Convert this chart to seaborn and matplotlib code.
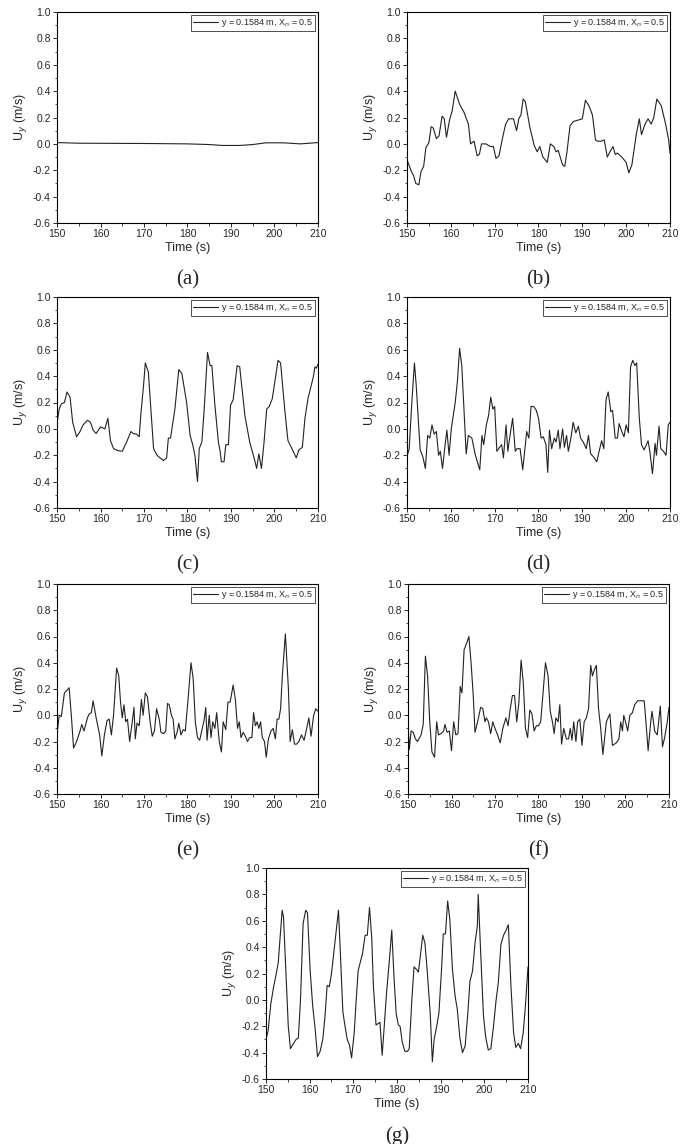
import numpy as np
import pandas as pd
import seaborn as sns
import matplotlib
matplotlib.use("Agg")
import matplotlib.pyplot as plt
from matplotlib.ticker import MultipleLocator

sns.set_style("ticks")
plt.rcParams["font.family"] = "Liberation Sans"

t_a = [150, 155, 170, 180, 185, 188, 192, 195, 198, 202, 206, 210]
u_a = [0.01, 0.005, 0.003, 0.0, -0.005, -0.012, -0.012, -0.005, 0.008, 0.008, 0.0, 0.01]

t_b = [150, 151, 151.5, 152, 152.7, 153.2, 153.8, 154.3, 155, 155.5, 156, 156.7, 157.3, 158, 158.5, 159, 159.7, 160.3, 161, 162, 163, 164, 164.5, 165.3, 166, 166.5, 167, 168, 169, 169.7, 170.3, 171, 171.7, 172.5, 173.2, 174.3, 175, 175.5, 176, 176.5, 177, 178, 179, 179.7, 180.3, 181, 182, 182.7, 183.5, 184, 184.5, 185.5, 186, 186.5, 187.2, 188, 189, 190, 190.7, 191.5, 192.3, 193, 193.5, 194.3, 195, 195.7, 196.3, 197, 197.5, 198, 199, 200, 200.6, 201.3, 202.3, 203, 203.5, 204.3, 205, 205.7, 206.3, 207, 208, 209, 209.7, 210]
u_b = [-0.12, -0.21, -0.24, -0.30, -0.31, -0.21, -0.17, -0.03, 0.01, 0.13, 0.12, 0.04, 0.06, 0.21, 0.19, 0.05, 0.18, 0.25, 0.40, 0.30, 0.24, 0.15, 0.0, 0.02, -0.09, -0.08, 0.0, 0.0, -0.02, -0.02, -0.11, -0.09, 0.03, 0.15, 0.19, 0.19, 0.10, 0.19, 0.22, 0.34, 0.32, 0.13, -0.01, -0.06, -0.02, -0.10, -0.14, 0.0, -0.02, -0.06, -0.05, -0.16, -0.17, -0.06, 0.14, 0.17, 0.18, 0.19, 0.33, 0.29, 0.22, 0.03, 0.02, 0.02, 0.03, -0.10, -0.06, -0.02, -0.08, -0.07, -0.10, -0.14, -0.22, -0.16, 0.07, 0.19, 0.07, 0.15, 0.19, 0.15, 0.20, 0.34, 0.29, 0.15, 0.03, -0.07]

t_c = [150, 150.5, 151, 151.7, 152.3, 153, 153.6, 154.5, 155.3, 156, 157, 157.7, 158.3, 159, 160, 161, 161.7, 162.3, 163, 164, 165, 166, 167, 167.5, 168.3, 168.9, 169.3, 169.9, 170.3, 171, 172.2, 173, 173.7, 174.5, 175.2, 175.6, 176.1, 177.1, 178, 178.7, 179.8, 180.6, 181.2, 181.7, 182.3, 182.7, 183.3, 183.8, 184.3, 184.6, 185.2, 185.6, 186.3, 187.1, 187.5, 187.8, 188.4, 188.8, 189.4, 189.9, 190.5, 191.4, 192, 193.2, 194.3, 195.3, 195.9, 196.4, 197, 197.6, 198.2, 198.8, 199.5, 200.5, 200.8, 201.4, 202.4, 203.1, 204.3, 205, 205.6, 206.4, 207, 207.7, 208.9, 209.3, 209.6, 210]
u_c = [0.04, 0.15, 0.19, 0.20, 0.28, 0.24, 0.05, -0.06, -0.02, 0.03, 0.065, 0.05, -0.01, -0.035, 0.015, 0.0, 0.08, -0.09, -0.15, -0.165, -0.17, -0.10, -0.02, -0.035, -0.04, -0.06, 0.12, 0.33, 0.50, 0.43, -0.15, -0.20, -0.22, -0.24, -0.22, -0.07, -0.07, 0.15, 0.45, 0.42, 0.20, -0.05, -0.12, -0.20, -0.40, -0.15, -0.10, 0.13, 0.41, 0.58, 0.48, 0.48, 0.18, -0.10, -0.17, -0.25, -0.25, -0.12, -0.12, 0.18, 0.22, 0.48, 0.47, 0.10, -0.10, -0.22, -0.30, -0.19, -0.30, -0.10, 0.15, 0.17, 0.23, 0.45, 0.52, 0.50, 0.13, -0.09, -0.17, -0.22, -0.16, -0.14, 0.08, 0.23, 0.39, 0.47, 0.46, 0.49]

t_d = [150.0, 150.5, 151.1, 151.7, 152.1, 153.0, 153.6, 154.2, 154.7, 155.2, 155.7, 156.2, 156.7, 157.2, 157.6, 158.1, 158.7, 159.1, 159.6, 160.1, 161.0, 161.5, 162.0, 162.5, 163.1, 163.5, 164.0, 164.8, 165.6, 166.6, 167.1, 167.5, 168.1, 168.6, 169.1, 169.6, 170.0, 170.5, 171.1, 171.6, 172.0, 172.6, 173.0, 173.5, 174.1, 174.7, 175.1, 175.8, 176.4, 177.0, 177.3, 177.8, 178.3, 178.9, 179.5, 180.0, 180.6, 181.1, 181.7, 182.1, 182.5, 183.0, 183.6, 184.0, 184.5, 184.9, 185.5, 185.9, 186.4, 186.8, 187.4, 187.9, 188.5, 189.1, 189.6, 190.2, 190.9, 191.4, 191.9, 192.5, 193.3, 193.9, 194.4, 194.9, 195.4, 195.9, 196.5, 196.9, 197.5, 198.0, 198.4, 199.0, 199.5, 200.0, 200.5, 201.0, 201.5, 202.0, 202.4, 203.0, 203.5, 204.1, 205.0, 205.4, 206.0, 206.6, 206.9, 207.5, 207.9, 208.5, 209.1, 209.6, 210.0]
u_d = [-0.21, -0.15, 0.2, 0.5, 0.33, -0.16, -0.21, -0.30, -0.05, -0.07, 0.03, -0.04, -0.02, -0.2, -0.17, -0.30, -0.12, -0.01, -0.2, 0.0, 0.2, 0.36, 0.61, 0.48, 0.08, -0.19, -0.05, -0.07, -0.2, -0.31, -0.05, -0.12, 0.03, 0.1, 0.24, 0.15, 0.17, -0.17, -0.14, -0.12, -0.22, 0.03, -0.17, -0.05, 0.08, -0.17, -0.15, -0.15, -0.31, -0.12, -0.02, -0.07, 0.17, 0.17, 0.14, 0.08, -0.07, -0.06, -0.12, -0.33, -0.01, -0.15, -0.07, -0.10, -0.01, -0.15, 0.0, -0.14, -0.05, -0.17, -0.07, 0.05, -0.03, 0.02, -0.07, -0.10, -0.15, -0.05, -0.19, -0.21, -0.25, -0.16, -0.09, -0.15, 0.22, 0.28, 0.13, 0.14, -0.07, -0.07, 0.04, -0.02, -0.06, 0.03, -0.03, 0.47, 0.52, 0.48, 0.5, 0.08, -0.12, -0.16, -0.09, -0.17, -0.34, -0.11, -0.2, 0.02, -0.15, -0.17, -0.2, 0.03, 0.05]

t_e = [150, 150.5, 151, 151.7, 152.3, 152.8, 153.4, 153.8, 154.5, 155.3, 155.7, 156.2, 157, 157.4, 157.9, 158.3, 159, 159.8, 160.3, 160.9, 161.5, 162, 162.5, 163, 163.7, 164.2, 164.6, 165, 165.4, 165.8, 166.2, 166.7, 167.3, 167.7, 168, 168.4, 168.9, 169.4, 169.8, 170.3, 170.8, 171.4, 171.9, 172.4, 172.9, 173.5, 173.9, 174.5, 175, 175.4, 175.8, 176.3, 176.7, 177.1, 177.6, 178, 178.5, 179, 179.5, 180.2, 180.8, 181.3, 181.8, 182.3, 182.8, 183.4, 183.8, 184.2, 184.5, 185, 185.4, 185.8, 186.3, 186.7, 187.3, 187.8, 188.2, 188.8, 189.3, 189.8, 190.5, 191, 191.5, 191.9, 192.3, 192.8, 193.3, 193.8, 194.3, 194.8, 195.2, 195.6, 196, 196.4, 196.8, 197.2, 197.7, 198.1, 198.6, 199.2, 199.7, 200.2, 200.6, 201, 201.4, 201.8, 202.5, 203.2, 203.6, 204.1, 204.6, 205.1, 205.6, 206.2, 206.8, 207.4, 207.9, 208.4, 209, 209.5, 210]
u_e = [-0.15, 0.0, -0.01, 0.17, 0.19, 0.21, -0.05, -0.25, -0.20, -0.12, -0.07, -0.12, -0.02, 0.01, 0.02, 0.11, -0.02, -0.15, -0.31, -0.15, -0.04, -0.03, -0.15, 0.0, 0.36, 0.30, 0.10, -0.02, 0.08, -0.05, -0.03, -0.20, -0.05, 0.06, -0.18, -0.06, -0.08, 0.12, 0.0, 0.17, 0.14, -0.05, -0.16, -0.12, 0.05, -0.03, -0.13, -0.14, -0.12, 0.09, 0.08, 0.0, -0.03, -0.18, -0.13, -0.06, -0.15, -0.11, -0.12, 0.15, 0.40, 0.28, -0.05, -0.17, -0.19, -0.10, -0.04, 0.06, -0.19, 0.0, -0.17, -0.05, -0.10, 0.02, -0.20, -0.28, -0.05, -0.11, 0.10, 0.10, 0.23, 0.12, -0.10, -0.05, -0.17, -0.13, -0.16, -0.20, -0.17, -0.17, 0.02, -0.08, -0.05, -0.10, -0.05, -0.17, -0.20, -0.32, -0.18, -0.12, -0.10, -0.18, -0.03, -0.03, 0.05, 0.30, 0.62, 0.20, -0.20, -0.11, -0.22, -0.22, -0.20, -0.15, -0.19, -0.10, -0.02, -0.16, 0.0, 0.05, 0.03]

t_f = [150, 150.3, 150.7, 151.2, 151.7, 152.2, 153, 153.5, 154, 154.5, 155, 155.5, 156.1, 156.6, 157, 157.6, 158.2, 158.5, 159, 159.5, 160, 160.5, 161, 161.5, 162, 162.4, 162.9, 163.5, 164, 164.5, 165, 165.4, 166, 166.7, 167.2, 167.7, 168, 168.5, 169, 169.5, 170, 170.6, 171.2, 171.8, 172.5, 173, 173.5, 174, 174.5, 175, 175.5, 176, 176.5, 177, 177.5, 178, 178.5, 179, 179.5, 180, 180.5, 181, 181.6, 182.2, 182.7, 183.2, 183.6, 184, 184.5, 184.9, 185.3, 185.8, 186.4, 186.9, 187.3, 187.7, 188.1, 188.6, 189, 189.5, 190, 190.5, 191, 191.5, 192, 192.4, 192.9, 193.3, 193.8, 194.3, 194.8, 195.6, 196.4, 197, 197.9, 198.5, 198.9, 199.3, 199.6, 200, 200.5, 201, 201.6, 202.1, 202.8, 203.6, 204.3, 204.7, 205.2, 205.8, 206.1, 206.7, 207.3, 208, 208.5, 209, 209.6, 210]
u_f = [-0.06, -0.26, -0.12, -0.13, -0.18, -0.20, -0.15, -0.07, 0.45, 0.30, -0.05, -0.28, -0.32, -0.05, -0.15, -0.14, -0.12, -0.07, -0.13, -0.12, -0.27, -0.05, -0.15, -0.14, 0.22, 0.17, 0.50, 0.55, 0.60, 0.40, 0.15, -0.13, -0.05, 0.06, 0.05, -0.05, -0.02, -0.05, -0.14, -0.05, -0.10, -0.15, -0.21, -0.10, -0.02, -0.08, 0.05, 0.15, 0.15, -0.05, 0.10, 0.42, 0.25, -0.10, -0.17, 0.04, 0.01, -0.12, -0.08, -0.08, -0.05, 0.15, 0.40, 0.30, 0.03, -0.05, -0.14, -0.02, -0.05, 0.08, -0.22, -0.10, -0.18, -0.18, -0.10, -0.19, -0.05, -0.20, -0.05, -0.03, -0.23, -0.05, -0.02, 0.05, 0.38, 0.30, 0.35, 0.38, 0.05, -0.10, -0.30, -0.05, 0.01, -0.23, -0.21, -0.18, -0.05, -0.12, 0.0, -0.05, -0.12, 0.0, 0.02, 0.08, 0.11, 0.11, 0.11, -0.05, -0.27, -0.05, 0.03, -0.12, -0.15, 0.07, -0.24, -0.17, -0.05, 0.06]

t_g = [150.0, 150.5, 151.1, 151.7, 152.3, 152.8, 153.2, 153.7, 154.0, 154.6, 155.1, 155.6, 156.3, 156.9, 157.4, 157.9, 158.5, 159.1, 159.5, 160.1, 160.7, 161.2, 161.8, 162.4, 163.0, 163.5, 164.0, 164.5, 165.0, 165.6, 166.2, 166.6, 167.1, 167.6, 168.1, 168.6, 169.1, 169.6, 170.2, 170.6, 171.1, 171.7, 172.1, 172.7, 173.2, 173.7, 174.2, 174.6, 175.2, 175.7, 176.1, 176.6, 177.1, 177.6, 178.2, 178.8, 179.3, 179.8, 180.3, 180.7, 181.2, 181.8, 182.4, 182.8, 183.4, 183.9, 184.5, 184.9, 185.4, 185.9, 186.4, 186.9, 187.6, 188.1, 188.5, 189.1, 189.6, 190.2, 190.6, 191.1, 191.6, 192.1, 192.7, 193.3, 193.8, 194.4, 195.0, 195.6, 196.2, 196.7, 197.3, 197.9, 198.4, 198.6, 199.2, 199.8, 200.3, 200.9, 201.5, 202.1, 202.7, 203.2, 203.8, 204.4, 205.0, 205.5, 206.1, 206.7, 207.2, 207.8, 208.3, 208.9, 209.4, 210.0]
u_g = [-0.30, -0.23, -0.03, 0.09, 0.19, 0.28, 0.46, 0.68, 0.63, 0.18, -0.20, -0.37, -0.33, -0.30, -0.29, 0.0, 0.58, 0.68, 0.66, 0.23, -0.05, -0.20, -0.43, -0.39, -0.30, -0.13, 0.11, 0.10, 0.20, 0.38, 0.56, 0.68, 0.30, -0.09, -0.20, -0.30, -0.34, -0.44, -0.25, -0.03, 0.22, 0.30, 0.35, 0.49, 0.49, 0.70, 0.48, 0.10, -0.19, -0.18, -0.17, -0.42, -0.19, 0.05, 0.28, 0.53, 0.18, -0.10, -0.19, -0.20, -0.32, -0.39, -0.39, -0.37, 0.0, 0.25, 0.23, 0.21, 0.35, 0.49, 0.43, 0.23, -0.10, -0.47, -0.30, -0.20, -0.10, 0.23, 0.50, 0.50, 0.75, 0.61, 0.23, 0.03, -0.07, -0.29, -0.40, -0.35, -0.11, 0.14, 0.22, 0.44, 0.56, 0.80, 0.33, -0.12, -0.28, -0.38, -0.37, -0.20, 0.0, 0.13, 0.42, 0.49, 0.53, 0.57, 0.10, -0.25, -0.36, -0.33, -0.37, -0.25, -0.05, 0.25]

panel_names = ["(a)", "(b)", "(c)", "(d)", "(e)", "(f)", "(g)"]
series = [(t_a, u_a), (t_b, u_b), (t_c, u_c), (t_d, u_d), (t_e, u_e), (t_f, u_f), (t_g, u_g)]
legend_label = "y = 0.1584 m, X$_n$ = 0.5"

W, H = 685, 1144
fig = plt.figure(figsize=(W / 100, H / 100), dpi=100)
boxes = [(57, 12, 318, 223), (407, 12, 670, 223),
         (57, 297, 318, 508), (407, 297, 670, 508),
         (57, 584, 318, 794), (408, 584, 669, 794),
         (266, 868, 528, 1079)]

for name, (t, u), (l, tp, r, b) in zip(panel_names, series, boxes):
    ax = fig.add_axes([l / W, 1 - b / H, (r - l) / W, (b - tp) / H])
    df = pd.DataFrame({"t": t, "u": u})
    sns.lineplot(data=df, x="t", y="u", ax=ax, sort=False, color="#222222",
                 linewidth=0.8, label=legend_label)
    ax.set_xlim(150, 210)
    ax.set_ylim(-0.6, 1.0)
    ax.xaxis.set_major_locator(MultipleLocator(10))
    ax.xaxis.set_minor_locator(MultipleLocator(5))
    ax.yaxis.set_major_locator(MultipleLocator(0.2))
    ax.yaxis.set_minor_locator(MultipleLocator(0.1))
    ax.set_yticklabels([f"{v:.1f}" for v in ax.get_yticks()])
    ax.tick_params(which="major", length=3, width=0.7, labelsize=7.5, pad=1.5)
    ax.tick_params(which="minor", length=1.8, width=0.6)
    for s in ax.spines.values():
        s.set_linewidth(0.8)
        s.set_color("black")
    ax.set_xlabel("Time (s)", fontsize=9, labelpad=2)
    ax.set_ylabel("U$_y$ (m/s)", fontsize=9, labelpad=3)
    leg = ax.legend(loc="upper right", fontsize=6.5, frameon=True, fancybox=False,
                    borderaxespad=0.3, handlelength=2.8, borderpad=0.25,
                    handletextpad=0.3)
    leg.get_frame().set_edgecolor("black")
    leg.get_frame().set_linewidth(0.6)
    ax.text(0.5, -0.27, name, transform=ax.transAxes, ha="center", va="center",
            fontsize=15, family="Liberation Serif")

fig.savefig("out.png", dpi=100)
